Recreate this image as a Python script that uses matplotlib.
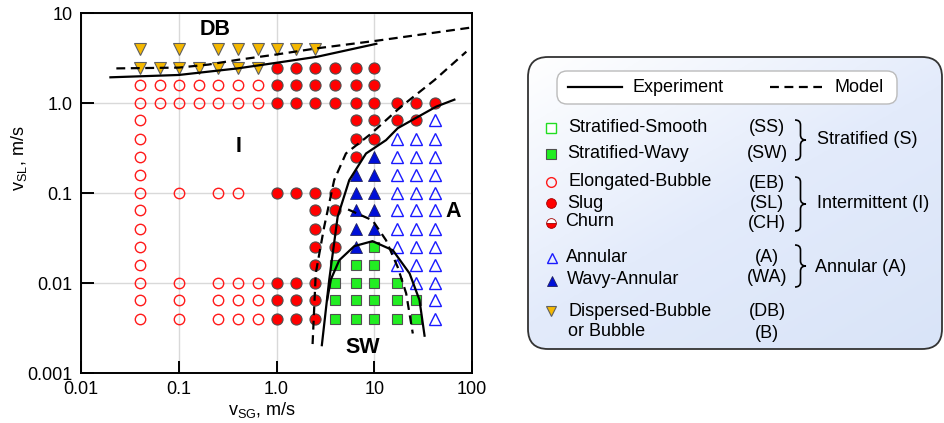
import numpy as np
import matplotlib.pyplot as plt
from matplotlib.patches import FancyBboxPatch, PathPatch
from matplotlib.path import Path
from matplotlib.colors import LinearSegmentedColormap

plt.rcParams['font.family'] = ['Liberation Sans', 'DejaVu Sans']
plt.rcParams['mathtext.fontset'] = 'custom'
plt.rcParams['mathtext.rm'] = 'Liberation Sans'

############ data: rows of (vSL, [vSG ...]) per flow pattern ############
eb_rows = [(1.6, [0.04, 0.065, 0.1, 0.16, 0.25, 0.4, 0.65]),
           (1.0, [0.04, 0.065, 0.1, 0.16, 0.25, 0.4, 0.65]),
           (0.65, [0.04]), (0.4, [0.04]), (0.25, [0.04]), (0.16, [0.04]),
           (0.1, [0.04, 0.1, 0.25, 0.4]),
           (0.065, [0.04]), (0.04, [0.04]), (0.025, [0.04]), (0.016, [0.04]),
           (0.01, [0.04, 0.1, 0.25, 0.4, 0.65]),
           (0.0065, [0.04, 0.1, 0.25, 0.4, 0.65]),
           (0.004, [0.04, 0.1, 0.25, 0.4, 0.65])]

slug_rows = [(2.5, [1.0, 1.6, 2.5, 4.0, 6.5, 10]),
             (1.6, [1.0, 1.6, 2.5, 4.0, 6.5, 10]),
             (1.0, [1.0, 1.6, 2.5, 4.0, 6.5, 10, 17, 27, 42]),
             (0.65, [6.5, 10, 17, 27]),
             (0.4, [6.5, 10]),
             (0.25, [6.5]),
             (0.1, [1.0, 1.6, 2.5, 4.0]),
             (0.065, [2.5, 4.0]), (0.04, [2.5, 4.0]), (0.025, [2.5, 4.0]),
             (0.016, [2.5]),
             (0.01, [1.0, 1.6, 2.5]), (0.0065, [1.0, 1.6, 2.5]),
             (0.004, [1.0, 1.6, 2.5])]

wa_rows = [(0.25, [10]), (0.16, [6.5, 10]), (0.1, [6.5, 10]),
           (0.065, [6.5, 10]), (0.04, [6.5, 10]), (0.025, [6.5])]

ann_rows = [(0.65, [42]), (0.4, [17, 27, 42]), (0.25, [17, 27, 42]),
            (0.16, [17, 27, 42]), (0.1, [17, 27, 42]), (0.065, [17, 27, 42]),
            (0.04, [17, 27, 42]), (0.025, [17, 27, 42]), (0.016, [17, 27, 42]),
            (0.01, [27, 42]), (0.0065, [42]), (0.004, [42])]

sw_rows = [(0.025, [10]), (0.016, [4.0, 6.5, 10]), (0.01, [4.0, 6.5, 10, 17]),
           (0.0065, [4.0, 6.5, 10, 17, 27]), (0.004, [4.0, 6.5, 10, 17, 27])]

db_rows = [(4.0, [0.04, 0.1, 0.25, 0.4, 0.65, 1.0, 1.6, 2.5]),
           (2.5, [0.04, 0.065, 0.1, 0.16, 0.25, 0.4, 0.65])]

# transition boundaries (experiment = solid, model = dashed)
exp_db_x = [0.02, 0.1, 0.4, 1.0, 2.6, 10.5]
exp_db_y = [1.95, 2.07, 2.45, 2.83, 3.3, 4.6]
mod_db_x = [0.023, 0.1, 0.2, 0.4, 1.0, 2.6, 10.9, 100]
mod_db_y = [2.45, 2.5, 2.7, 3.05, 3.5, 4.1, 5.0, 7.0]

exp_ann_x = [2.91, 3.46, 4.22, 5.55, 8.24, 13.2, 17.4, 43, 66]
exp_ann_y = [0.00204, 0.0108, 0.0546, 0.14, 0.277, 0.39, 0.53, 0.92, 1.1]
mod_ann_x = [2.34, 2.52, 3.07, 3.89, 5.13, 9.27, 18.8, 41.4, 87.5]
mod_ann_y = [0.0021, 0.0128, 0.042, 0.14, 0.277, 0.46, 0.92, 1.82, 3.76]

exp_sw_x = [3.3, 3.6, 4.39, 6.25, 9.6, 15.5, 23, 29, 32.7]
exp_sw_y = [0.0065, 0.011, 0.018, 0.0258, 0.0293, 0.0232, 0.0128, 0.0065, 0.0026]
mod_sw_x = [5.4, 9.6, 13.2, 17.4, 21.2, 24.8]
mod_sw_y = [0.066, 0.05, 0.030, 0.015, 0.0077, 0.00275]

x_ticks = [0.01, 0.1, 1.0, 10, 100]
x_lab = ['0.01', '0.1', '1.0', '10', '100']
y_ticks = [0.001, 0.01, 0.1, 1.0, 10]
y_lab = ['0.001', '0.01', '0.1', '1.0', '10']


def expand(rows):
    xs, ys = [], []
    for vsl, vsgs in rows:
        for v in vsgs:
            xs.append(v)
            ys.append(vsl)
    return xs, ys


fig = plt.figure(figsize=(9.45, 4.23), dpi=100)
ax = fig.add_axes([81 / 945, 50 / 423, 391 / 945, 359.5 / 423])
ax.set_xscale('log')
ax.set_yscale('log')
ax.set_xlim(0.01, 100)
ax.set_ylim(0.001, 10)
ax.set_xticks(x_ticks)
ax.set_xticklabels(x_lab)
ax.set_yticks(y_ticks)
ax.set_yticklabels(y_lab)
ax.minorticks_off()
ax.tick_params(direction='in', length=9, width=1.4, labelsize=13, pad=6)
ax.grid(True, color='#d9d9d9', lw=1)
ax.set_axisbelow(True)
for s in ax.spines.values():
    s.set_linewidth(1.4)

mk = dict(ls='none', zorder=3)
x, y = expand(eb_rows)
ax.plot(x, y, marker='o', ms=7.5, mfc='none', mec='#ff1a1a', mew=1.0, **mk)
x, y = expand(slug_rows)
ax.plot(x, y, marker='o', ms=8, mfc='#ff0000', mec='#505050', mew=0.8, **mk)
x, y = expand(wa_rows)
ax.plot(x, y, marker='^', ms=8, mfc='#0010d8', mec='#202060', mew=0.6, **mk)
x, y = expand(ann_rows)
ax.plot(x, y, marker='^', ms=8, mfc='none', mec='#1a1aff', mew=1.0, **mk)
x, y = expand(sw_rows)
ax.plot(x, y, marker='s', ms=7.5, mfc='#22ee22', mec='#505050', mew=0.8, **mk)
x, y = expand(db_rows)
ax.plot(x, y, marker='v', ms=8, mfc='#f5b800', mec='#606060', mew=0.8, **mk)

ls_kw = dict(color='black', lw=1.6, zorder=4)
ax.plot(exp_db_x, exp_db_y, '-', **ls_kw)
ax.plot(exp_ann_x, exp_ann_y, '-', **ls_kw)
ax.plot(exp_sw_x, exp_sw_y, '-', **ls_kw)
for xx, yy in [(mod_db_x, mod_db_y), (mod_ann_x, mod_ann_y), (mod_sw_x, mod_sw_y)]:
    ax.plot(xx, yy, '--', dashes=(4, 2.5), **ls_kw)

bold = dict(fontsize=15.5, fontweight='bold', ha='center', va='center', zorder=5)
ax.text(0.235, 6.6, 'DB', **bold)
ax.text(0.41, 0.33, 'I', **bold)
ax.text(64, 0.062, 'A', **bold)
ax.text(7.7, 0.0019, 'SW', **bold)

ax.text((262 - 81) / 391, (373 - 410) / 359.5, 'v$_\\mathregular{SG}$, m/s',
        transform=ax.transAxes, ha='center', va='center', fontsize=13)
ax.text((19 - 81) / 391, (373 - 158) / 359.5, 'v$_\\mathregular{SL}$, m/s',
        transform=ax.transAxes, ha='center', va='center', fontsize=13,
        rotation=90)

############ legend panel, drawn in pixel coordinates ############
ov = fig.add_axes([0, 0, 1, 1])
ov.set_xlim(0, 945)
ov.set_ylim(423, 0)
ov.axis('off')

box = FancyBboxPatch((528, 57), 414, 292, boxstyle='round,pad=0,rounding_size=20',
                     fc='none', ec='#333333', lw=1.3, zorder=3)
ov.add_patch(box)
gx = np.linspace(0, 1, 200)
grad = 0.45 * gx[None, :] + 0.55 * gx[:, None]
cmap = LinearSegmentedColormap.from_list('bg', ['#ffffff', '#e3ebfb', '#d9e4f8'])
im = ov.imshow(grad, extent=(528, 942, 349, 57), cmap=cmap, aspect='auto',
               interpolation='bilinear', zorder=1)
im.set_clip_path(box)
ov.set_xlim(0, 945)
ov.set_ylim(423, 0)

inner = FancyBboxPatch((557, 71), 340, 33, boxstyle='round,pad=0,rounding_size=10',
                       fc='white', ec='#bbbbbb', lw=1.0, zorder=2)
ov.add_patch(inner)
ov.plot([568, 622], [87, 87], '-', color='black', lw=1.6, zorder=3)
ov.plot([770, 822], [87, 87], '--', dashes=(4, 2.5), color='black', lw=1.6, zorder=3)
tx = dict(fontsize=13, va='center', ha='left', zorder=3)
ov.text(633, 87, 'Experiment', **tx)
ov.text(834, 87, 'Model', **tx)

lm = dict(ls='none', zorder=3)
ov.plot([551], [128], marker='s', ms=6.5, mfc='white', mec='#22dd22', mew=1.0, **lm)
ov.plot([551], [154], marker='s', ms=6.5, mfc='#22ee22', mec='#505050', mew=0.8, **lm)
ov.plot([551], [182], marker='o', ms=7, mfc='none', mec='#ff1a1a', mew=1.0, **lm)
ov.plot([551], [203], marker='o', ms=7, mfc='#ff0000', mec='#a00000', mew=0.6, **lm)
ov.plot([551], [223], marker='o', ms=7, mfc='#ff0000', mec='#a00000', mew=0.6,
        fillstyle='bottom', markerfacecoloralt='white', **lm)
ov.plot([552], [258], marker='^', ms=7, mfc='none', mec='#1a1aff', mew=1.0, **lm)
ov.plot([552], [281], marker='^', ms=7, mfc='#0010d8', mec='#202060', mew=0.6, **lm)
ov.plot([551], [311], marker='v', ms=7, mfc='#f5b800', mec='#606060', mew=0.8, **lm)

names = [(568, 128, 'Stratified-Smooth'), (567, 153, 'Stratified-Wavy'),
         (568, 182, 'Elongated-Bubble'), (567, 203, 'Slug'), (565, 222, 'Churn'),
         (566, 257, 'Annular'), (567, 280, 'Wavy-Annular'),
         (568, 312, 'Dispersed-Bubble'), (568, 332, 'or Bubble')]
for px, py, s in names:
    ov.text(px, py, s, **tx)

abbr = [(128, '(SS)'), (153, '(SW)'), (183, '(EB)'), (203, '(SL)'), (223, '(CH)'),
        (257, '(A)'), (278, '(WA)'), (312, '(DB)'), (334, '(B)')]
for py, s in abbr:
    ov.text(767, py, s, fontsize=13, ha='center', va='center', zorder=3)


def brace(x0, y0, y1, w=11, d=5):
    xm = x0 + w / 2
    ym = (y0 + y1) / 2
    verts = [(x0, y0), (xm, y0), (xm, y0 + d),
             (xm, ym - d), (xm, ym), (x0 + w, ym),
             (xm, ym), (xm, ym + d),
             (xm, y1 - d), (xm, y1), (x0, y1)]
    codes = [Path.MOVETO, Path.CURVE3, Path.CURVE3,
             Path.LINETO, Path.CURVE3, Path.CURVE3,
             Path.CURVE3, Path.CURVE3,
             Path.LINETO, Path.CURVE3, Path.CURVE3]
    ov.add_patch(PathPatch(Path(verts, codes), fc='none', ec='black', lw=1.2, zorder=3))


brace(795, 120, 160)
brace(795, 177, 231)
brace(795, 245, 287)
ov.text(817, 140, 'Stratified (S)', **tx)
ov.text(817, 204, 'Intermittent (I)', **tx)
ov.text(815, 267, 'Annular (A)', **tx)

fig.savefig('out.png', dpi=100)
